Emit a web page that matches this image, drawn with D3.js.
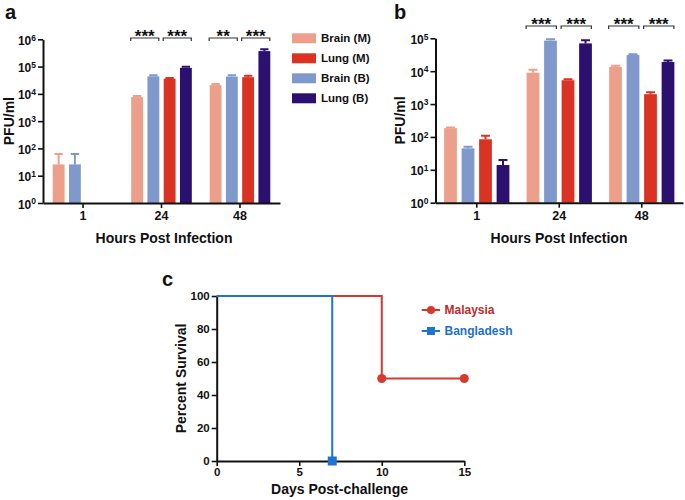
<!DOCTYPE html>
<html>
<head>
<meta charset="utf-8">
<script src="https://cdn.jsdelivr.net/npm/d3@7"></script>
<style>
  body { margin: 0; background: #fff; }
  svg text { font-family: "Liberation Sans", Arial, sans-serif; font-weight: bold; fill: #111; }
</style>
</head>
<body>
<div id="chart"></div>
<script>
// ---- data ----
const timepoints = ["1", "24", "48"];
const seriesKeys = ["Brain (M)", "Brain (B)", "Lung (M)", "Lung (B)"]; // bar order in a group
const legendKeys = ["Brain (M)", "Lung (M)", "Brain (B)", "Lung (B)"];
const seriesColors = ["#eca08b", "#7f99cc", "#da3324", "#2b1070"];
const logTicksA = [1, 10, 100, 1000, 10000, 100000, 1000000];
const logTicksB = [1, 10, 100, 1000, 10000, 100000];

// panel a: mean and upper error, one array per series (order of seriesKeys)
const aBrainM = [26, 7600, 21000];
const aBrainB = [26, 44000, 43000];
const aLungM = [null, 36000, 41000];
const aLungB = [null, 90000, 370000];
const aBrainMErr = [62, 8300, 23000];
const aBrainBErr = [62, 48000, 48000];
const aLungMErr = [null, 38500, 46000];
const aLungBErr = [null, 98000, 430000];

// panel b
const bBrainM = [185, 9000, 13500];
const bBrainB = [45, 85000, 31000];
const bLungM = [85, 5300, 2000];
const bLungB = [14, 70000, 19000];
const bBrainMErr = [195, 11000, 14500];
const bBrainBErr = [50, 93000, 33000];
const bLungMErr = [108, 5700, 2300];
const bLungBErr = [20, 88000, 21000];

// significance brackets (pair 0 = Brain M vs B, pair 1 = Lung M vs B)
const aSigTimes = ["24", "24", "48", "48"];
const aSigPairs = [0, 1, 0, 1];
const aSigLabels = ["***", "***", "**", "***"];
const bSigTimes = ["24", "24", "48", "48"];
const bSigPairs = [0, 1, 0, 1];
const bSigLabels = ["***", "***", "***", "***"];

// panel c survival
const survivalNames = ["Malaysia", "Bangladesh"];
const survivalColors = ["#d6392e", "#1f74d2"];
const survivalTextColors = ["#c02a2a", "#1f6fc9"];
const malaysiaDays = [0, 10, 15];
const malaysiaSurvival = [100, 50, 50];
const bangladeshDays = [0, 7];
const bangladeshSurvival = [100, 0];
const survivalYTicks = [0, 20, 40, 60, 80, 100];
const survivalXTicks = [0, 5, 10, 15];

const color = d3.scaleOrdinal().domain(seriesKeys).range(seriesColors);

const svg = d3.select("#chart").append("svg")
    .attr("width", 685)
    .attr("height", 500);

function styleAxis(g) {
    g.select(".domain").attr("stroke", "#111").attr("stroke-width", 2);
    g.selectAll(".tick line").attr("stroke", "#111").attr("stroke-width", 1.6);
}

function supLabel(g) {
    g.selectAll(".tick text").each(function(d) {
        const t = d3.select(this).text("").attr("dy", "0.42em").attr("font-size", 12);
        t.append("tspan").text("10");
        t.append("tspan").attr("dy", "-0.5em").attr("font-size", 8.5).text(Math.round(Math.log10(d)));
    });
}

// bar panel (a and b)
function barPanel(opts) {
    const g = svg.append("g");
    const x0 = d3.scaleBand().domain(timepoints)
        .range([opts.left, opts.right]).paddingOuter(opts.outer);
    const x1 = d3.scaleBand().domain(seriesKeys)
        .range([-opts.groupHalf, opts.groupHalf]).paddingInner(0.27).paddingOuter(0.135);
    const y = d3.scaleLog().domain([1, opts.ticks[opts.ticks.length - 1]])
        .range([opts.bottom, opts.top]);

    const rows = [];
    timepoints.forEach((t, i) => {
        seriesKeys.forEach((k, j) => {
            if (opts.means[j][i] != null)
                rows.push({ time: t, key: k, v: opts.means[j][i], e: opts.errs[j][i] });
        });
    });

    const cx = d => x0(d.time) + x0.bandwidth() / 2 + x1(d.key);

    g.selectAll(".bar").data(rows).join("rect")
        .attr("class", "bar")
        .attr("x", d => cx(d))
        .attr("y", d => y(d.v))
        .attr("width", x1.bandwidth())
        .attr("height", d => y(1) - y(d.v))
        .attr("fill", d => color(d.key));

    // upper error bars
    const capW = x1.bandwidth() * 0.7;
    g.selectAll(".err").data(rows).join("path")
        .attr("class", "err")
        .attr("d", d => {
            const m = cx(d) + x1.bandwidth() / 2;
            return `M${m},${y(d.v)}V${y(d.e)}M${m - capW / 2},${y(d.e)}H${m + capW / 2}`;
        })
        .attr("stroke", d => color(d.key))
        .attr("stroke-width", 2)
        .attr("fill", "none");

    // axes
    g.append("g")
        .attr("transform", `translate(0,${opts.bottom})`)
        .call(d3.axisBottom(x0).tickSize(5).tickSizeOuter(0).tickPadding(3))
        .call(styleAxis)
        .selectAll(".tick text").attr("font-size", 12.5);

    g.append("g")
        .attr("transform", `translate(${opts.left},0)`)
        .call(d3.axisLeft(y).tickValues(opts.ticks).tickSize(5).tickSizeOuter(0).tickPadding(2))
        .call(styleAxis)
        .call(supLabel);

    // significance brackets
    opts.sigTimes.forEach((t, i) => {
        const k1 = seriesKeys[opts.sigPairs[i] * 2], k2 = seriesKeys[opts.sigPairs[i] * 2 + 1];
        const xa = cx({ time: t, key: k1 }) - 0.5;
        const xb = cx({ time: t, key: k2 }) + x1.bandwidth() - 0.5;
        g.append("path")
            .attr("d", `M${xa},${opts.sigY + 3}V${opts.sigY}H${xb}V${opts.sigY + 3}`)
            .attr("fill", "none").attr("stroke", "#333").attr("stroke-width", 1.2);
        g.append("text")
            .attr("x", (xa + xb) / 2).attr("y", opts.sigY + 4)
            .attr("text-anchor", "middle").attr("font-size", 17)
            .text(opts.sigLabels[i]);
    });

    // titles
    g.append("text")
        .attr("x", opts.titleX).attr("y", 243)
        .attr("text-anchor", "middle").attr("font-size", 14)
        .text("Hours Post Infection");
    g.append("text")
        .attr("transform", `translate(${opts.ylabX},${(opts.top + opts.bottom) / 2}) rotate(-90)`)
        .attr("text-anchor", "middle").attr("font-size", 14)
        .text("PFU/ml");
    g.append("text")
        .attr("x", opts.letterX).attr("y", 19)
        .attr("font-size", 20)
        .text(opts.letter);
}

barPanel({
    left: 43, right: 280, top: 39.3, bottom: 203, outer: 0.01, groupHalf: 32.5,
    ticks: logTicksA,
    means: [aBrainM, aBrainB, aLungM, aLungB],
    errs: [aBrainMErr, aBrainBErr, aLungMErr, aLungBErr],
    sigTimes: aSigTimes, sigPairs: aSigPairs, sigLabels: aSigLabels, sigY: 38,
    titleX: 164, ylabX: 14, letter: "a", letterX: 5
});

barPanel({
    left: 435.5, right: 683, top: 38.3, bottom: 202.7, outer: 0, groupHalf: 35,
    ticks: logTicksB,
    means: [bBrainM, bBrainB, bLungM, bLungB],
    errs: [bBrainMErr, bBrainBErr, bLungMErr, bLungBErr],
    sigTimes: bSigTimes, sigPairs: bSigPairs, sigLabels: bSigLabels, sigY: 26,
    titleX: 559, ylabX: 405, letter: "b", letterX: 394
});

// legend for a / b
const leg = svg.append("g").attr("transform", "translate(292,0)");
legendKeys.forEach((k, i) => {
    const yy = 38.3 + i * 20;
    leg.append("rect").attr("x", 0).attr("y", yy - 5).attr("width", 24).attr("height", 10)
        .attr("fill", color(k));
    leg.append("text").attr("x", 29).attr("y", yy + 4).attr("font-size", 11.5).text(k);
});

// ---- panel c ----
const c = svg.append("g");
const cx = d3.scaleLinear().domain([0, 15]).range([216.7, 464.3]);
const cy = d3.scaleLinear().domain([0, 100]).range([461, 296]);

c.append("g")
    .attr("transform", `translate(0,${cy(0)})`)
    .call(d3.axisBottom(cx).tickValues(survivalXTicks).tickSize(5).tickSizeOuter(0).tickPadding(2))
    .call(styleAxis)
    .selectAll(".tick text").attr("font-size", 11.5);

c.append("g")
    .attr("transform", `translate(${cx(0)},0)`)
    .call(d3.axisLeft(cy).tickValues(survivalYTicks).tickSize(5).tickSizeOuter(0).tickPadding(2))
    .call(styleAxis)
    .selectAll(".tick text").attr("font-size", 11.5);

const step = d3.line().x(d => cx(d[0])).y(d => cy(d[1])).curve(d3.curveStepAfter);
const malaysia = d3.zip(malaysiaDays, malaysiaSurvival);
const bangladesh = d3.zip(bangladeshDays, bangladeshSurvival);

c.append("path").datum(malaysia).attr("d", step)
    .attr("fill", "none").attr("stroke", survivalColors[0]).attr("stroke-width", 2);
c.selectAll(".mdot").data(malaysia.slice(1)).join("circle")
    .attr("cx", d => cx(d[0])).attr("cy", d => cy(d[1])).attr("r", 4.5)
    .attr("fill", survivalColors[0]);

c.append("path").datum(bangladesh).attr("d", step)
    .attr("fill", "none").attr("stroke", survivalColors[1]).attr("stroke-width", 2);
c.selectAll(".bdot").data(bangladesh.slice(1)).join("rect")
    .attr("x", d => cx(d[0]) - 4.5).attr("y", d => cy(d[1]) - 4.5)
    .attr("width", 9).attr("height", 9)
    .attr("fill", survivalColors[1]);

// legend c
survivalNames.forEach((n, i) => {
    const yy = 310 + i * 21;
    c.append("line").attr("x1", 421.7).attr("x2", 440).attr("y1", yy).attr("y2", yy)
        .attr("stroke", survivalColors[i]).attr("stroke-width", 2);
    if (i === 0)
        c.append("circle").attr("cx", 431).attr("cy", yy).attr("r", 4).attr("fill", survivalColors[i]);
    else
        c.append("rect").attr("x", 427).attr("y", yy - 4).attr("width", 8).attr("height", 8).attr("fill", survivalColors[i]);
    c.append("text").attr("x", 444.5).attr("y", yy + 4).attr("font-size", 12)
        .style("fill", survivalTextColors[i]).text(n);
});

c.append("text")
    .attr("x", (cx(0) + cx(15)) / 2 - 1).attr("y", 494)
    .attr("text-anchor", "middle").attr("font-size", 14)
    .text("Days Post-challenge");
c.append("text")
    .attr("transform", `translate(${186},${(cy(0) + cy(100)) / 2}) rotate(-90)`)
    .attr("text-anchor", "middle").attr("font-size", 14)
    .text("Percent Survival");
c.append("text").attr("x", 162).attr("y", 286).attr("font-size", 20).text("c");
</script>
</body>
</html>
